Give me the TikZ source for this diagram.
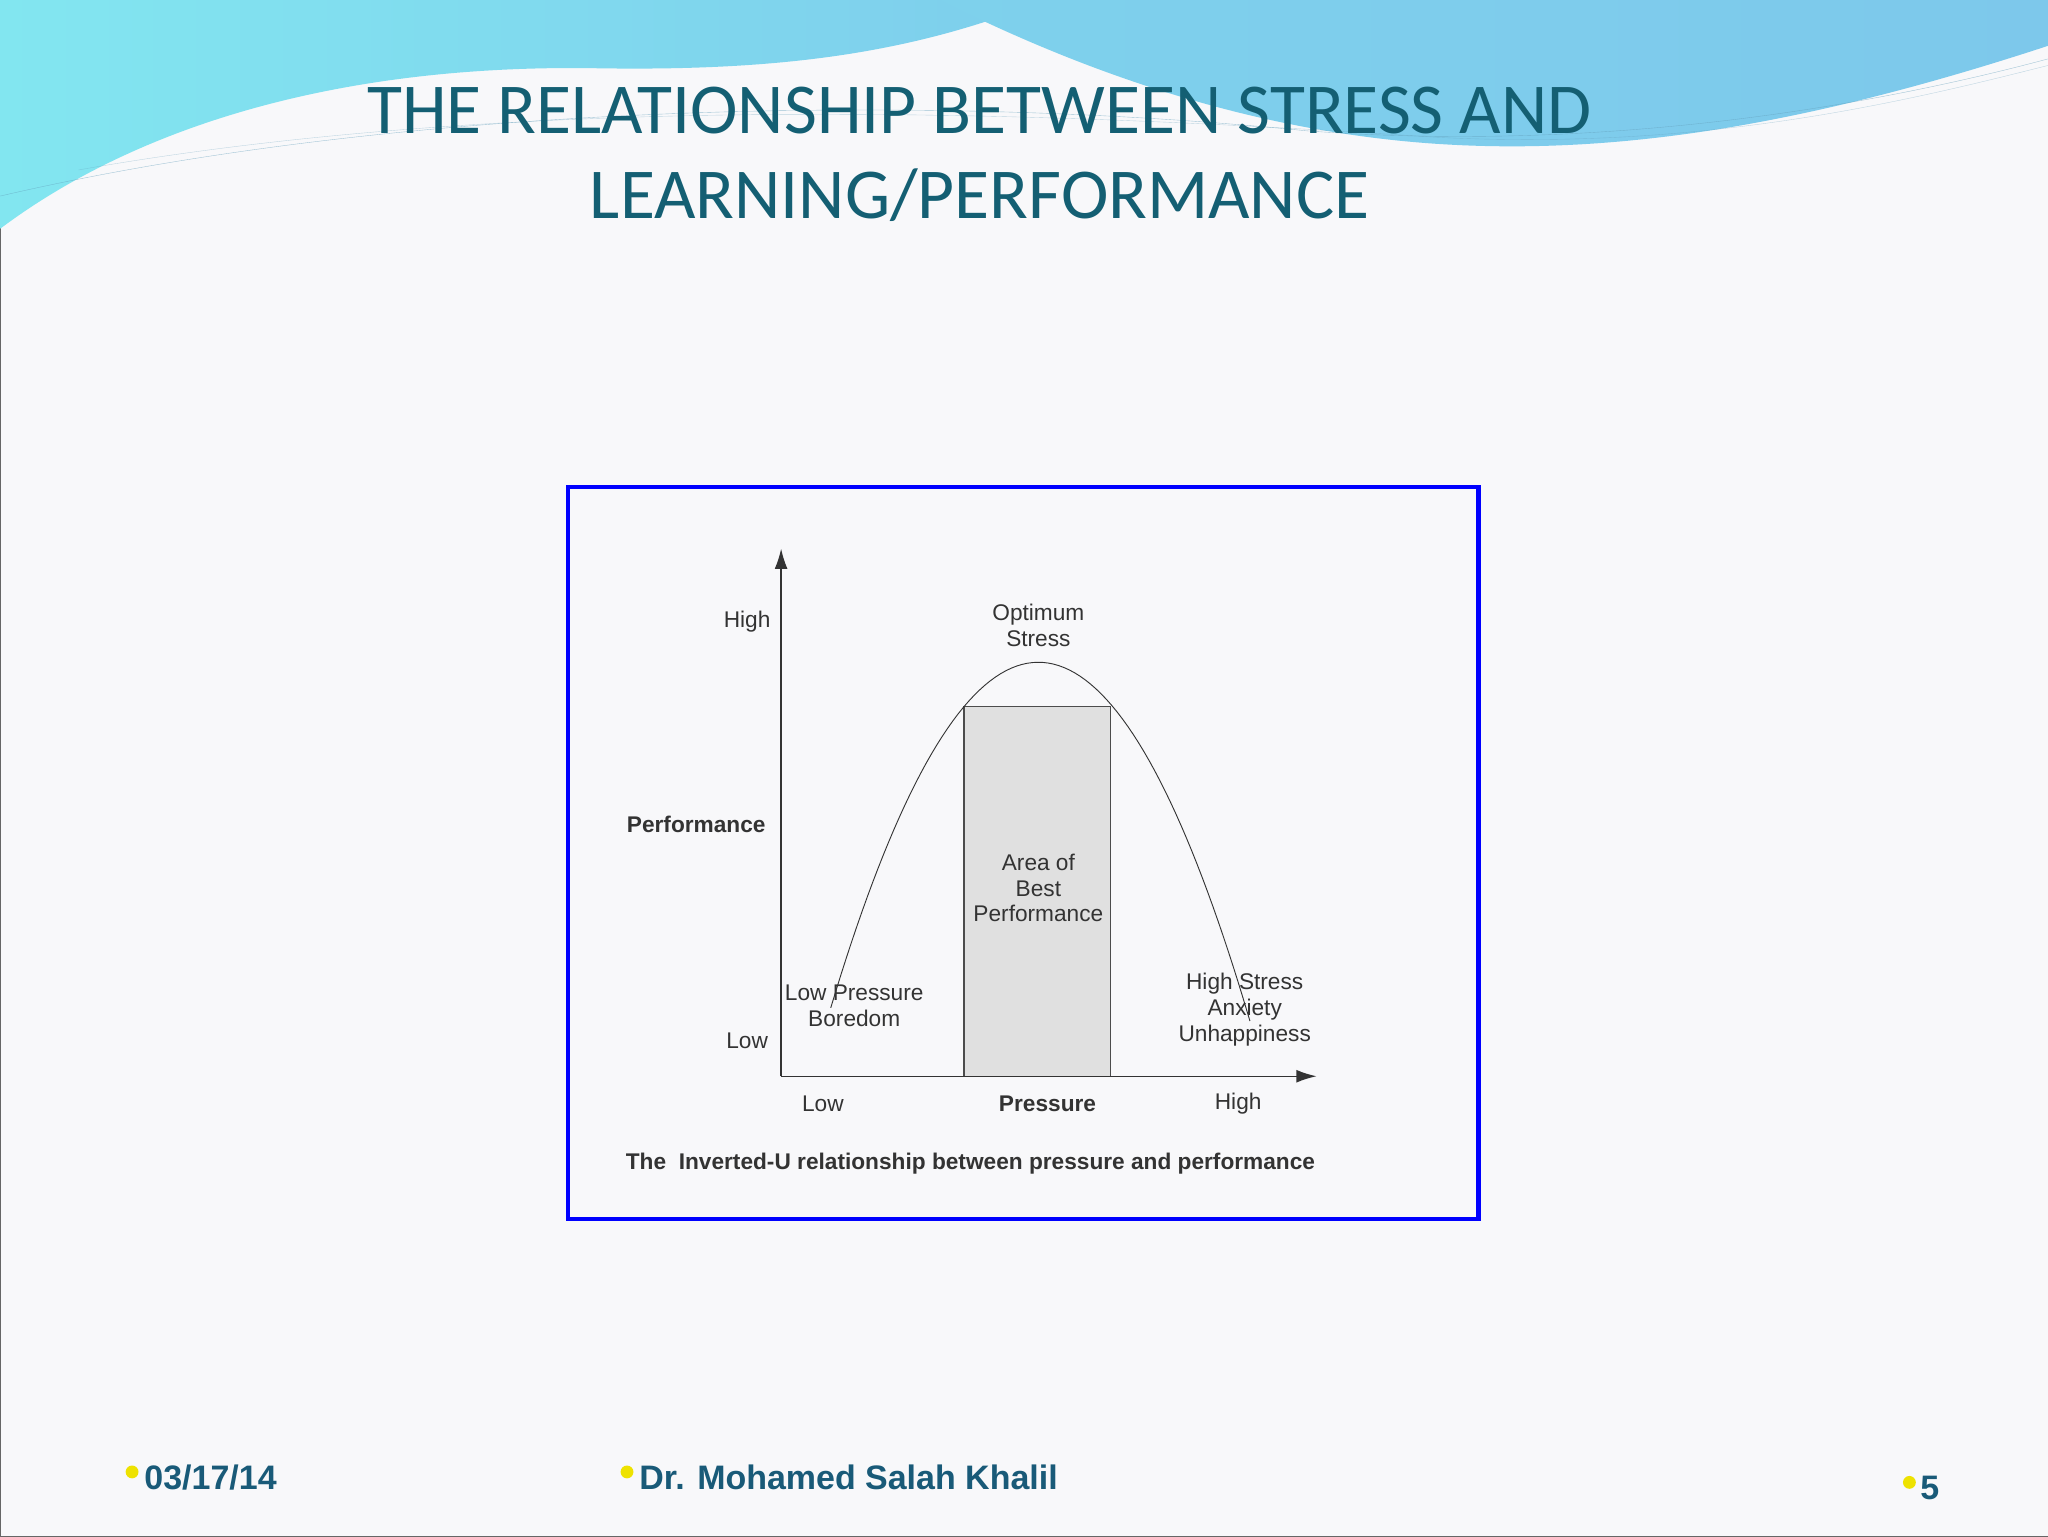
\documentclass[tikz,border=0pt]{standalone}
\usepackage{fontspec}
\usetikzlibrary{arrows.meta}
\setmainfont{Liberation Sans}
\newfontfamily\titlefont{Carlito}
\definecolor{ttl}{RGB}{20,95,115}
\definecolor{ftr}{RGB}{25,90,120}
\definecolor{cyanw}{RGB}{130,230,240}
\definecolor{bluew}{RGB}{125,200,235}
\definecolor{boxg}{RGB}{224,224,224}
\definecolor{bg}{RGB}{248,248,250}
\tikzset{x=0.05cm,y=-0.05cm,
 lab/.style={font=\fontsize{24.7}{28}\selectfont,align=center,text=black!80,inner sep=0pt},
 blab/.style={lab,font=\fontsize{24.7}{28}\selectfont\bfseries},
 foot/.style={font=\fontsize{37}{40}\selectfont\bfseries,text=ftr,anchor=west},
 dot/.style={circle,fill=yellow!85!olive,inner sep=0pt,minimum size=14}}
\begin{document}
\begin{tikzpicture}
\fill[bg] (0,0) rectangle (1568,1176);
\draw[black!60] (0,0) rectangle (1568,1176);
% header waves
\shade[left color=cyanw,right color=bluew!80!cyanw] (0,0) -- (800,0) .. controls (700,40) and (600,55) .. (450,52) .. controls (250,50) and (100,100) .. (0,175) -- cycle;
\shade[left color=bluew!70!cyanw,right color=bluew] (720,0) -- (1568,0) -- (1568,35) .. controls (1400,90) and (1250,120) .. (1100,110) .. controls (950,100) and (820,50) .. (720,0) -- cycle;
\draw[bluew!80!black,opacity=.6] (0,150) .. controls (300,80) and (700,70) .. (1000,100) .. controls (1200,115) and (1400,90) .. (1568,45);
\draw[bluew!80!black,opacity=.4] (60,130) .. controls (400,70) and (800,85) .. (1100,105) .. controls (1300,115) and (1450,80) .. (1568,50);
\node[font=\titlefont\fontsize{78}{92}\selectfont,text=ttl,align=center] (title) at (750,118) {THE RELATIONSHIP BETWEEN STRESS AND\\LEARNING/PERFORMANCE};
% frame
\draw[blue,line width=4.5] (435,373) rectangle (1132,933);
% chart
\fill[boxg] (738,541) rectangle (850,824);
\draw[black!70,line width=1.5] (738,541) rectangle (850,824);
\draw[black!80,line width=1] plot[domain=636:957,samples=80] (\x,{507+0.01046*(\x-795)*(\x-795)});
\coordinate (o) at (598,824);
\coordinate (yt) at (598,420);
\coordinate (xt) at (1008,824);
\draw[black!80,line width=1.5,-{Latex[length=22pt,width=14pt]}] (o) -- (yt);
\draw[black!80,line width=1.5,-{Latex[length=22pt,width=14pt]}] (o) -- (xt);
\node[lab] (hi) at (572,476) {High};
\node[lab] (lo) at (572,797) {Low};
\node[blab] (perf) at (533,631) {Performance};
\node[lab] (opt) at (795,479) {Optimum\\Stress};
\node[lab] (area) at (795,680) {Area of\\Best\\Performance};
\node[lab] (lp) at (654,770) {Low Pressure\\Boredom};
\node[lab] (hs) at (953,773) {High Stress\\Anxiety\\Unhappiness};
\node[lab] (xlo) at (630,845) {Low};
\node[blab] (pr) at (802,845) {Pressure};
\node[lab] (xhi) at (948,845) {High};
\node[blab] (cap) at (743,891) {The\ \ Inverted-U relationship between pressure and performance};
% footer
\node[dot] (d1) at (101,1127) {};
\node[foot] (f1) at (108,1131) {03/17/14};
\node[dot] (d2) at (480,1127) {};
\node[foot] (f2) at (487,1131) {Dr. Mohamed Salah Khalil};
\node[dot] (d3) at (1462,1135) {};
\node[foot] (f3) at (1468,1139) {5};
\end{tikzpicture}
\end{document}
